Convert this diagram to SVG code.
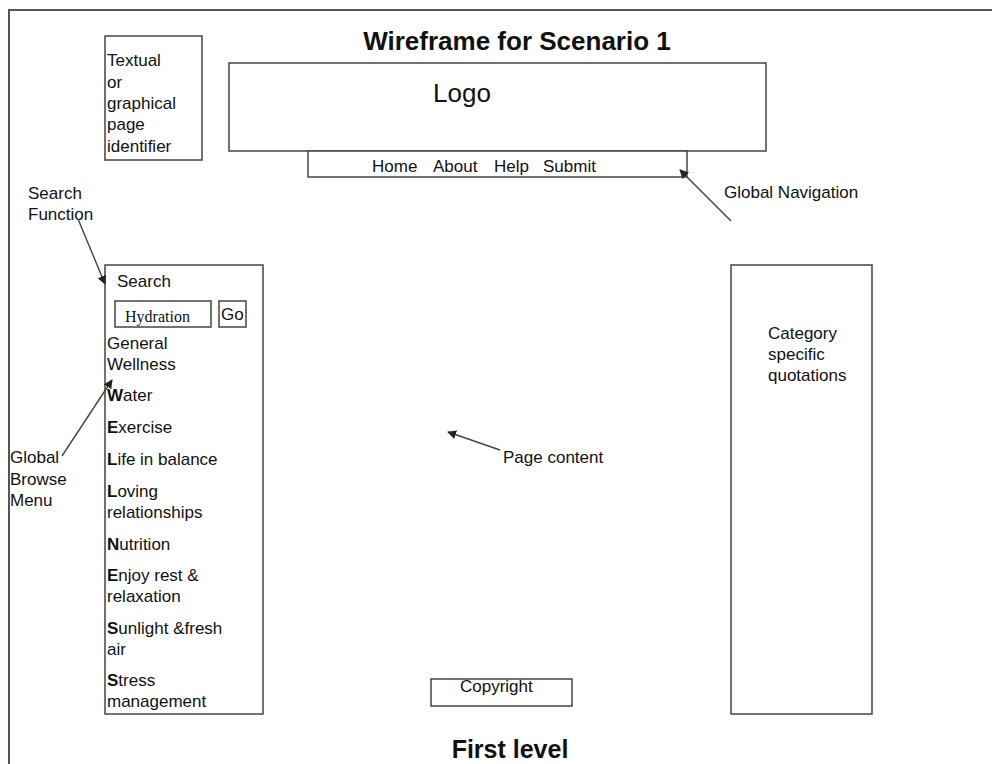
<svg xmlns="http://www.w3.org/2000/svg" width="992" height="764" viewBox="0 0 992 764">
<defs>
<style>
.box{fill:#fff;stroke:#444;stroke-width:1.5}
.t{font-family:"Liberation Sans",Arial,sans-serif;font-size:17px;fill:#111}
.b{font-weight:bold}
.serif{font-family:"Liberation Serif","Times New Roman",serif;font-size:16px;fill:#111}
.conn{stroke:#444;stroke-width:1.4;fill:none;marker-end:url(#ah)}
</style>
<marker id="ah" viewBox="0 0 10 10" refX="9" refY="5" markerWidth="9" markerHeight="9" markerUnits="userSpaceOnUse" orient="auto">
<path d="M0,0 L10,5 L0,10 z" fill="#222"/>
</marker>
</defs>
<rect width="992" height="764" fill="#fff"/>
<g id="frame">
<path d="M9,764 V10 H992" fill="none" stroke="#555" stroke-width="2"/>
</g>
<g id="title">
<text class="t b" x="517" y="50" text-anchor="middle" style="font-size:26px">Wireframe for Scenario 1</text>
</g>
<g id="page-identifier">
<rect class="box" x="105" y="36" width="97" height="124"/>
<text class="t" x="107" y="66">Textual</text>
<text class="t" x="107" y="87.5">or</text>
<text class="t" x="107" y="109">graphical</text>
<text class="t" x="107" y="130">page</text>
<text class="t" x="107" y="151.5">identifier</text>
</g>
<g id="logo">
<rect class="box" x="229" y="63" width="537" height="88"/>
<text class="t" x="433" y="102" style="font-size:26px">Logo</text>
</g>
<g id="global-nav">
<rect class="box" x="308" y="151" width="379" height="26"/>
<text class="t" x="372" y="172">Home</text>
<text class="t" x="433" y="172">About</text>
<text class="t" x="494" y="172">Help</text>
<text class="t" x="543" y="172">Submit</text>
</g>
<g id="label-global-navigation">
<text class="t" x="724" y="198">Global Navigation</text>
</g>
<g id="label-search-function">
<text class="t" x="28" y="199">Search</text>
<text class="t" x="28" y="220">Function</text>
</g>
<g id="left-menu">
<rect class="box" x="105" y="265" width="158" height="449"/>
<text class="t" x="117" y="287">Search</text>
<rect class="box" x="115" y="301" width="96" height="26" stroke-width="1.2"/>
<text class="serif" x="125" y="322">Hydration</text>
<rect class="box" x="219" y="301" width="27" height="26" stroke-width="1.2"/>
<text class="t" x="221" y="320">Go</text>
<text class="t" x="107" y="349">General</text>
<text class="t" x="107" y="370">Wellness</text>
<text class="t" x="107" y="401"><tspan class="b">W</tspan>ater</text>
<text class="t" x="107" y="433"><tspan class="b">E</tspan>xercise</text>
<text class="t" x="107" y="465"><tspan class="b">L</tspan>ife in balance</text>
<text class="t" x="107" y="497"><tspan class="b">L</tspan>oving</text>
<text class="t" x="107" y="518">relationships</text>
<text class="t" x="107" y="550"><tspan class="b">N</tspan>utrition</text>
<text class="t" x="107" y="581"><tspan class="b">E</tspan>njoy rest &amp;</text>
<text class="t" x="107" y="602">relaxation</text>
<text class="t" x="107" y="634"><tspan class="b">S</tspan>unlight &amp;fresh</text>
<text class="t" x="107" y="655">air</text>
<text class="t" x="107" y="686"><tspan class="b">S</tspan>tress</text>
<text class="t" x="107" y="707">management</text>
</g>
<g id="label-global-browse">
<text class="t" x="10" y="463">Global</text>
<text class="t" x="10" y="485">Browse</text>
<text class="t" x="10" y="506">Menu</text>
</g>
<g id="label-page-content">
<text class="t" x="503" y="463">Page content</text>
</g>
<g id="quotations">
<rect class="box" x="731" y="265" width="141" height="449"/>
<text class="t" x="768" y="339">Category</text>
<text class="t" x="768" y="360">specific</text>
<text class="t" x="768" y="381">quotations</text>
</g>
<g id="copyright">
<rect class="box" x="431" y="679" width="141" height="27"/>
<text class="t" x="460" y="692">Copyright</text>
</g>
<g id="footer">
<text class="t b" x="510" y="758" text-anchor="middle" style="font-size:25px">First level</text>
</g>
<g id="connectors">
<line class="conn" x1="731" y1="221" x2="680" y2="170"/>
<line class="conn" x1="78" y1="219" x2="105" y2="284"/>
<line class="conn" x1="62" y1="456" x2="112" y2="380"/>
<line class="conn" x1="500" y1="450" x2="448" y2="432"/>
</g>
</svg>
